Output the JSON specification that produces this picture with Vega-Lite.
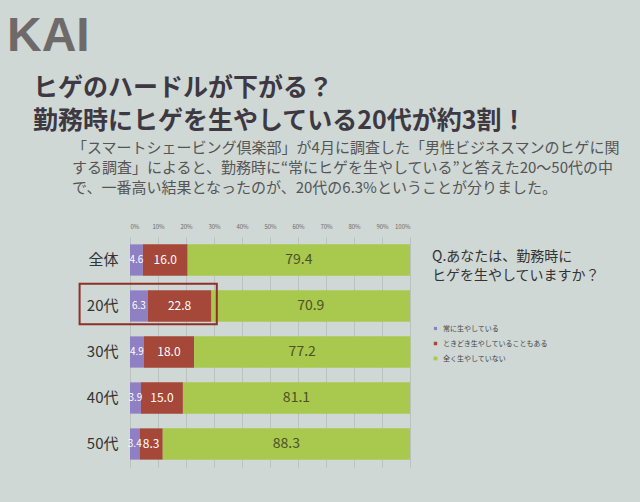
{
  "$schema": "https://vega.github.io/schema/vega-lite/v6.json",
  "background": "#cfd8d5",
  "padding": {"left": 7, "top": 13, "right": 20, "bottom": 36},
  "config": {
    "font": "Noto Sans CJK JP",
    "view": {"stroke": null},
    "concat": {"spacing": 0},
    "axisX": {
      "orient": "top",
      "title": null,
      "labelOverlap": false,
      "labelFontSize": 6,
      "labelColor": "#6a6a6a",
      "labelPadding": 8,
      "ticks": false,
      "domain": false,
      "grid": true,
      "gridColor": "#b9c2bf",
      "gridWidth": 1
    },
    "axisY": {"title": null, "ticks": false, "domain": false, "labelFontSize": 15, "labelColor": "#333333", "labelPadding": 12}
  },
  "title": {
    "text": "KAI",
    "anchor": "start",
    "frame": "group",
    "font": "Liberation Sans",
    "fontSize": 48,
    "fontWeight": "bold",
    "color": "#6f6a6a",
    "dx": -123,
    "offset": 15
  },
  "vconcat": [
    {
      "title": {
        "text": ["ヒゲのハードルが下がる？", "勤務時にヒゲを生やしている20代が約3割！"],
        "anchor": "start",
        "frame": "group",
        "fontSize": 25,
        "fontWeight": "bold",
        "color": "#3d3842",
        "lineHeight": 33,
        "dx": -97,
        "offset": 7
      },
      "vconcat": [
        {
          "title": {
            "text": [
              "「スマートシェービング倶楽部」が4月に調査した「男性ビジネスマンのヒゲに関",
              "する調査」によると、勤務時に“常にヒゲを生やしている”と答えた20～50代の中",
              "で、一番高い結果となったのが、20代の6.3%ということが分りました。"
            ],
            "anchor": "start",
            "frame": "group",
            "fontSize": 15,
            "fontWeight": "normal",
            "color": "#555555",
            "lineHeight": 20,
            "dx": -58,
            "offset": 27
          },
          "width": 280,
          "height": 230,
          "data": {
            "values": [
              {"group": "全体", "answer": "常に生やしている", "value": 4.6, "order": 1},
              {"group": "全体", "answer": "ときどき生やしていることもある", "value": 16.0, "order": 2},
              {"group": "全体", "answer": "全く生やしていない", "value": 79.4, "order": 3},
              {"group": "20代", "answer": "常に生やしている", "value": 6.3, "order": 1},
              {"group": "20代", "answer": "ときどき生やしていることもある", "value": 22.8, "order": 2},
              {"group": "20代", "answer": "全く生やしていない", "value": 70.9, "order": 3},
              {"group": "30代", "answer": "常に生やしている", "value": 4.9, "order": 1},
              {"group": "30代", "answer": "ときどき生やしていることもある", "value": 18.0, "order": 2},
              {"group": "30代", "answer": "全く生やしていない", "value": 77.2, "order": 3},
              {"group": "40代", "answer": "常に生やしている", "value": 3.9, "order": 1},
              {"group": "40代", "answer": "ときどき生やしていることもある", "value": 15.0, "order": 2},
              {"group": "40代", "answer": "全く生やしていない", "value": 81.1, "order": 3},
              {"group": "50代", "answer": "常に生やしている", "value": 3.4, "order": 1},
              {"group": "50代", "answer": "ときどき生やしていることもある", "value": 8.3, "order": 2},
              {"group": "50代", "answer": "全く生やしていない", "value": 88.3, "order": 3}
            ]
          },
          "layer": [
            {
              "mark": {"type": "bar"},
              "encoding": {
                "y": {
                  "field": "group",
                  "type": "nominal",
                  "scale": {"domain": ["全体", "20代", "30代", "40代", "50代"], "paddingInner": 0.32, "paddingOuter": 0.16}
                },
                "x": {
                  "field": "value",
                  "type": "quantitative",
                  "stack": "zero",
                  "scale": {"domain": [0, 100], "nice": false},
                  "axis": {"values": [0, 10, 20, 30, 40, 50, 60, 70, 80, 90, 100], "labelExpr": "datum.value + '%'"}
                },
                "order": {"field": "order", "type": "quantitative"},
                "color": {
                  "field": "answer",
                  "type": "nominal",
                  "scale": {
                    "domain": ["常に生やしている", "ときどき生やしていることもある", "全く生やしていない"],
                    "range": ["#8f80c4", "#a54739", "#a9c84e"]
                  },
                  "legend": {
                    "orient": "none",
                    "legendX": 302,
                    "legendY": 13,
                    "title": ["Q.あなたは、勤務時に", "ヒゲを生やしていますか？"],
                    "titleFontSize": 14,
                    "titleFontWeight": "normal",
                    "titleColor": "#333333",
                    "titleLineHeight": 19,
                    "titleLimit": 300,
                    "titlePadding": 42,
                    "symbolType": "square",
                    "symbolSize": 18,
                    "symbolStrokeWidth": 0,
                    "labelFontSize": 7,
                    "labelColor": "#444444",
                    "labelLimit": 300,
                    "rowPadding": 7
                  }
                }
              }
            },
            {
              "transform": [
                {"stack": "value", "groupby": ["group"], "sort": [{"field": "order", "order": "ascending"}], "as": ["v0", "v1"]},
                {"fold": ["v0", "v1"], "as": ["edge", "pos"]}
              ],
              "mark": {"type": "text", "align": "center", "baseline": "middle"},
              "encoding": {
                "y": {"field": "group", "type": "nominal"},
                "x": {"aggregate": "mean", "field": "pos", "type": "quantitative", "axis": {"values": [0, 10, 20, 30, 40, 50, 60, 70, 80, 90, 100], "labelExpr": "datum.value + '%'"}},
                "detail": {"field": "answer", "type": "nominal"},
                "text": {"aggregate": "max", "field": "value", "type": "quantitative", "format": ".1f"},
                "size": {
                  "field": "answer",
                  "type": "nominal",
                  "scale": {
                    "domain": ["常に生やしている", "ときどき生やしていることもある", "全く生やしていない"],
                    "range": [10, 14, 9]
                  },
                  "legend": null
                },
                "color": {
                  "condition": {"test": "datum.answer === '全く生やしていない'", "value": "#4d5226"},
                  "value": "#ffffff"
                }
              }
            },
            {
              "data": {"values": [{"group": "20代"}]},
              "mark": {"type": "bar", "fill": "transparent", "stroke": "#8e2f2a", "strokeWidth": 2, "height": {"band": 1.3}, "yOffset": -2},
              "encoding": {
                "y": {"field": "group", "type": "nominal"},
                "x": {"datum": -18, "axis": {"values": [0, 10, 20, 30, 40, 50, 60, 70, 80, 90, 100], "labelExpr": "datum.value + '%'"}},
                "x2": {"datum": 31}
              }
            }
          ]
        }
      ]
    }
  ]
}
